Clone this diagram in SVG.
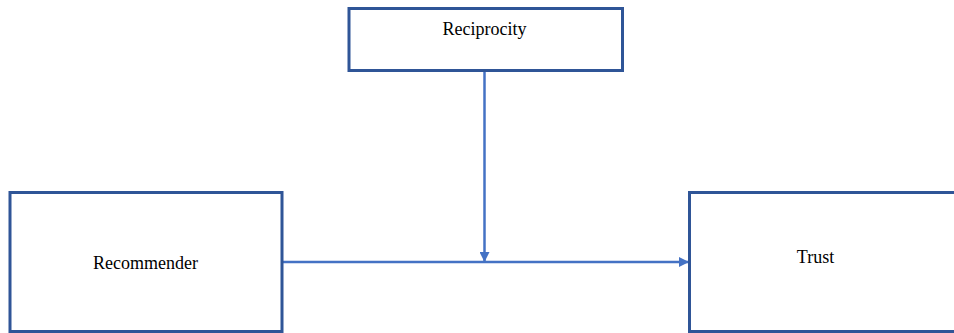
<svg xmlns="http://www.w3.org/2000/svg" width="954" height="333" viewBox="0 0 954 333">
  <style>
    .box { fill: #ffffff; stroke: #2F5597; stroke-width: 3; }
    .label { font-family: "Liberation Serif", "Times New Roman", serif; font-size: 18px; fill: #000000; text-anchor: middle; }
    .link { stroke: #4472C4; stroke-width: 2.5; fill: none; }
  </style>
  <defs>
    <marker id="arrow" viewBox="0 0 10 10" refX="9" refY="5" markerWidth="4" markerHeight="4" orient="auto" markerUnits="strokeWidth">
      <path d="M0,0 L10,5 L0,10 Z" fill="#4472C4"/>
    </marker>
  </defs>
  <rect width="954" height="333" fill="#ffffff"/>

  <g id="connectors">
    <line class="link" x1="484.5" y1="71" x2="484.5" y2="261" marker-end="url(#arrow)"/>
    <line class="link" x1="283" y1="262" x2="688" y2="262" marker-end="url(#arrow)"/>
  </g>

  <g id="reciprocity">
    <rect class="box" x="349" y="8.5" width="273.5" height="62"/>
    <text class="label" x="484.5" y="34.5">Reciprocity</text>
  </g>

  <g id="recommender">
    <rect class="box" x="10" y="192.5" width="272" height="139"/>
    <text class="label" x="145.5" y="268.5">Recommender</text>
  </g>

  <g id="trust">
    <rect class="box" x="689.5" y="192.5" width="270" height="139"/>
    <text class="label" x="815.5" y="263">Trust</text>
  </g>
</svg>
